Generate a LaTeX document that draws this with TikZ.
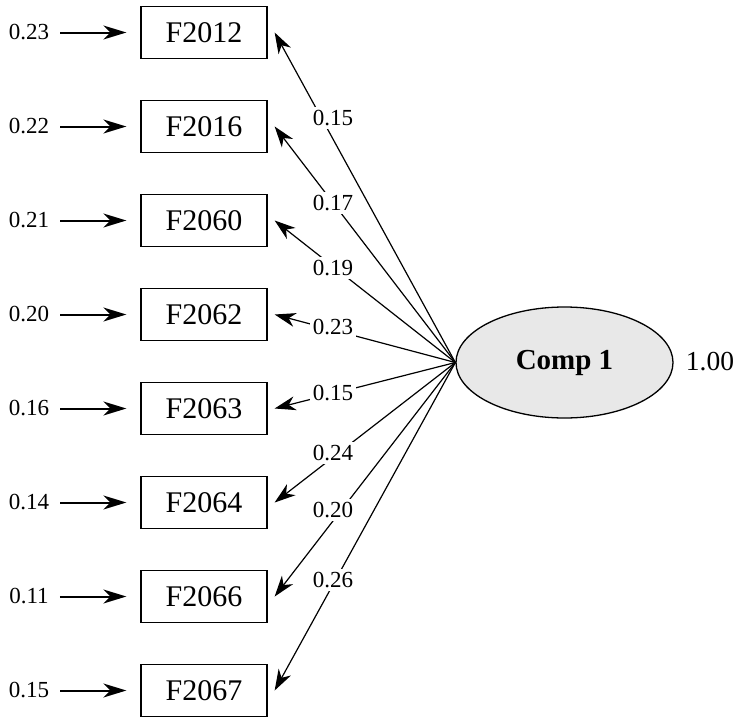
\documentclass[tikz,border=0pt]{standalone}
\usepackage{fontspec}
\setmainfont{Liberation Serif}
\usetikzlibrary{arrows.meta,shapes.geometric}
\begin{document}
\begin{tikzpicture}[x=1pt,y=-1pt,
  var/.style={draw,line width=1.3pt,minimum width=126pt,minimum height=52pt,inner sep=0pt,font=\fontsize{30}{33}\selectfont},
  err/.style={inner sep=0pt,font=\fontsize{23}{26}\selectfont},
  lbl/.style={fill=white,inner sep=3pt,font=\fontsize{23}{26}\selectfont},
  tipx/.style={-{Stealth[length=23pt,width=14pt,inset=7pt]}},
  errarrow/.style={tipx,line width=2pt,shorten <=11pt,shorten >=14pt},
  load/.style={-{Stealth[length=21pt,width=14pt,inset=6.5pt]},line width=1.2pt}]
\useasboundingbox (0,0) rectangle (737,718);
% latent
\node[ellipse,draw,line width=1.3pt,fill=black!9,minimum width=217pt,minimum height=111pt,inner sep=0pt,font=\fontsize{29}{32}\selectfont\bfseries] (c) at (564.5,362.5) {Comp 1};
\node[font=\fontsize{27.5}{30}\selectfont] (cv) at (710,362) {1.00};
% observed
\foreach \n/\name/\e [count=\i from 0] in {b1/F2012/0.23,b2/F2016/0.22,b3/F2060/0.21,b4/F2062/0.20,b5/F2063/0.16,b6/F2064/0.14,b7/F2066/0.11,b8/F2067/0.15}{
  \node[var] (\n) at (204,32.5+94*\i) {\name};
  \node[err] (e\n) at (29,32.5+94*\i) {\e};
  \draw[errarrow] (e\n.east) -- (\n.west);
  \draw[load] (c.west) -- ([xshift=7pt]\n.east);
}
% loading labels
\node[lbl] (l1) at (333,118) {0.15};
\node[lbl] (l2) at (333,203) {0.17};
\node[lbl] (l3) at (333,268) {0.19};
\node[lbl] (l4) at (333,327) {0.23};
\node[lbl] (l5) at (333,393) {0.15};
\node[lbl] (l6) at (333,453) {0.24};
\node[lbl] (l7) at (333,510) {0.20};
\node[lbl] (l8) at (333,580) {0.26};
\end{tikzpicture}
\end{document}
